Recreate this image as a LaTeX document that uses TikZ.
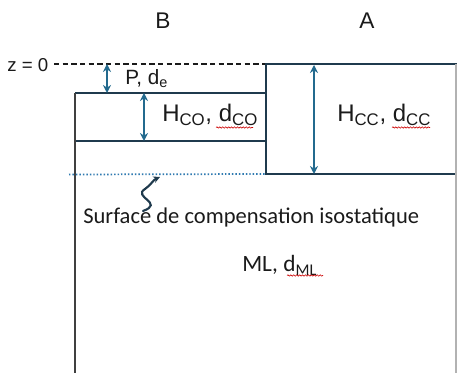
\documentclass[tikz,border=0pt]{standalone}
\usepackage{fontspec}
\setmainfont{Liberation Sans}
\newfontfamily\calib{Carlito}
\usetikzlibrary{arrows.meta,decorations.pathmorphing}
\definecolor{navy}{HTML}{1F3A4D}
\definecolor{teal}{HTML}{236A8E}
\definecolor{dotblue}{HTML}{2F7AB0}
\definecolor{txt}{HTML}{1A1A1A}
\tikzset{
  boxline/.style={navy, line width=1.8pt},
  dimarrow/.style={teal, line width=1.4pt, {Stealth[length=6pt,width=6pt]}-{Stealth[length=6pt,width=6pt]}},
  lbl/.style={text=txt, inner sep=0pt, anchor=base west},
  spell/.style={red!80!black, line width=0.45pt, decorate, decoration={snake, amplitude=0.5pt, segment length=2.2pt}},
}
\begin{document}
\begin{tikzpicture}[x=0.75pt,y=-0.75pt]
\useasboundingbox (0,0) rectangle (457,373);
% coordinates
\coordinate (zl) at (54,64);
\coordinate (atl) at (266,64);
\coordinate (atr) at (457,64);
\coordinate (abl) at (266,174);
\coordinate (abr) at (457,174);
\coordinate (otl) at (75,93);
\coordinate (otr) at (266,93);
\coordinate (oml) at (75,141);
\coordinate (omr) at (266,141);
\coordinate (obl) at (75,373);
\coordinate (dl) at (69,174.5);
\coordinate (rbt) at (456,64);
\coordinate (rbb) at (456,373);
% column labels
\node[text=txt, font=\fontsize{17}{19}\selectfont] (B) at (163,21) {B};
\node[text=txt, font=\fontsize{17}{19}\selectfont] (A) at (367,21) {A};
% z = 0
\node[lbl, font=\fontsize{14}{16}\selectfont] (z0) at (7,72) {z = 0};
\draw[txt, line width=1pt, dash pattern=on 4pt off 2.5pt] (zl) -- (atl);
% right column A
\draw[boxline] (atr) -- (atl) -- (abl) -- (abr);
% left column B
\draw[boxline] (otl) -- (otr);
\draw[boxline] (oml) -- (omr);
\draw[black!75, line width=2pt] (otl) -- (obl);
\draw[black!30, line width=1pt] (rbt) -- (rbb);
% isostatic compensation surface
\draw[dotblue, line width=1.3pt, dash pattern=on 1.1pt off 1.5pt] (dl) -- (abl);
% dimension arrows
\coordinate (p1) at (107,64); \coordinate (p2) at (107,93);
\coordinate (h1) at (144,93); \coordinate (h2) at (144,141);
\coordinate (c1) at (314,65); \coordinate (c2) at (314,174);
\draw[dimarrow] (p1) -- (p2);
\draw[dimarrow] (h1) -- (h2);
\draw[dimarrow] (c1) -- (c2);
% labels
\node[lbl, font=\fontsize{15.5}{17}\selectfont] (P) at (125,85) {P, d\textsubscript{e}};
\node[lbl, font=\fontsize{18}{20}\selectfont] (HCO) at (162,122) {H\textsubscript{CO}, d\textsubscript{CO}};
\node[lbl, font=\fontsize{18}{20}\selectfont] (HCC) at (337,122) {H\textsubscript{CC}, d\textsubscript{CC}};
\node[lbl, font=\calib\fontsize{16.9}{19}\selectfont] (S) at (83,224) {Surface de compensation isostatique};
\node[lbl, font=\calib\fontsize{17.5}{19}\selectfont] (ML) at (242,272) {ML, d\textsubscript{ML}};
% squiggle pointer
\coordinate (sq0) at (143,211);
\coordinate (sq1) at (160,177);
\draw[navy, line width=1.6pt, line cap=round, -{Stealth[length=5pt,width=5pt]}] (sq0) .. controls (165,203) and (132,197) .. (145,189) .. controls (151,185) and (153,180) .. (sq1);
% spell-check underlines
\draw[spell] (216,127.5) -- (253,127.5);
\draw[spell] (392,127.5) -- (430,127.5);
\draw[spell] (287,275.5) -- (323,275.5);
\end{tikzpicture}
\end{document}
